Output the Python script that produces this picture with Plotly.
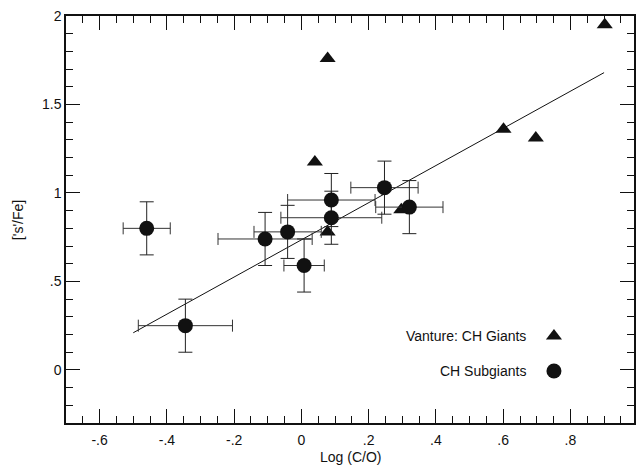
import plotly.graph_objects as go

# CH subgiants: log(C/O), ['s'/Fe] and their uncertainties
sub_x = [-0.46, -0.345, -0.108, -0.041, 0.008, 0.089, 0.089, 0.247, 0.321]
sub_y = [0.80, 0.25, 0.74, 0.78, 0.59, 0.96, 0.86, 1.03, 0.92]
sub_xerr = [0.07, 0.14, 0.14, 0.10, 0.06, 0.13, 0.15, 0.10, 0.10]
sub_yerr = [0.15, 0.15, 0.15, 0.15, 0.15, 0.15, 0.15, 0.15, 0.15]

# Vanture: CH giants
giant_x = [0.902, 0.078, 0.601, 0.697, 0.040, 0.078, 0.297]
giant_y = [1.95, 1.76, 1.36, 1.31, 1.175, 0.78, 0.905]

# Linear fit
fit_x = [-0.50, 0.90]
fit_y = [0.21, 1.68]

# Tick labels
x_tickvals = [-0.6, -0.4, -0.2, 0.0, 0.2, 0.4, 0.6, 0.8]
x_ticktext = ["-.6", "-.4", "-.2", "0", ".2", ".4", ".6", ".8"]
y_tickvals = [0.0, 0.5, 1.0, 1.5, 2.0]
y_ticktext = ["0", ".5", "1", "1.5", "2"]

FONT = "Liberation Sans, Arial, Helvetica, sans-serif"
INK = "#111111"
FS = 14

fig = go.Figure()

fig.add_trace(go.Scatter(
    x=fit_x, y=fit_y, mode="lines",
    line=dict(color=INK, width=1), showlegend=False, hoverinfo="skip",
))

fig.add_trace(go.Scatter(
    x=giant_x, y=giant_y, mode="markers",
    marker=dict(symbol="triangle-up", size=14, color=INK, line=dict(width=0)),
    showlegend=False, cliponaxis=False,
))

fig.add_trace(go.Scatter(
    x=sub_x, y=sub_y, mode="markers",
    marker=dict(symbol="circle", size=15, color=INK, line=dict(width=0)),
    error_x=dict(type="data", array=sub_xerr, visible=True,
                 color="#333333", thickness=1, width=6),
    error_y=dict(type="data", array=sub_yerr, visible=True,
                 color="#222222", thickness=1, width=7),
    showlegend=False,
))

# Key: symbols to the right of their labels
key_x = 0.751
key_text_x = 0.673
key_y = [0.192, -0.006]
fig.add_trace(go.Scatter(
    x=[key_x], y=[key_y[0]], mode="markers",
    marker=dict(symbol="triangle-up", size=14, color=INK),
    showlegend=False, hoverinfo="skip",
))
fig.add_trace(go.Scatter(
    x=[key_x], y=[key_y[1]], mode="markers",
    marker=dict(symbol="circle", size=15, color=INK),
    showlegend=False, hoverinfo="skip",
))
for label, yy in zip(["Vanture: CH Giants", "CH Subgiants"], key_y):
    fig.add_annotation(x=key_text_x, y=yy, xref="x", yref="y", text=label,
                       showarrow=False, xanchor="right", yanchor="middle",
                       font=dict(family=FONT, size=FS, color=INK))

axis_common = dict(
    showgrid=False, zeroline=False,
    showline=True, linecolor=INK, linewidth=1.5, mirror="ticks",
    ticks="inside", ticklen=14, tickwidth=1, tickcolor=INK,
    tickfont=dict(family=FONT, size=FS, color=INK),
)

fig.update_xaxes(
    range=[-0.7, 0.989], tickvals=x_tickvals, ticktext=x_ticktext,
    ticklabelstandoff=3,
    minor=dict(dtick=0.05, tick0=0, ticks="inside", ticklen=7,
               tickwidth=1, tickcolor=INK),
    **axis_common,
)
fig.update_yaxes(
    range=[-0.3, 2.0], tickvals=y_tickvals, ticktext=y_ticktext,
    minor=dict(dtick=0.1, tick0=0, ticks="inside", ticklen=7,
               tickwidth=1, tickcolor=INK),
    **axis_common,
)

fig.add_annotation(x=(352 - 66) / 570, y=-(457 - 423) / 407, xref="paper", yref="paper",
                   text="Log (C/O)", showarrow=False, xanchor="center", yanchor="middle",
                   font=dict(family=FONT, size=FS, color=INK))
fig.add_annotation(x=(18 - 66) / 570, y=(423 - 220) / 407, xref="paper", yref="paper",
                   text="['s'/Fe]", showarrow=False, textangle=-90,
                   xanchor="center", yanchor="middle",
                   font=dict(family=FONT, size=FS, color=INK))

fig.update_layout(
    width=636, height=465,
    margin=dict(l=66, r=0, t=16, b=42),
    paper_bgcolor="white", plot_bgcolor="white",
    font=dict(family=FONT, size=FS, color=INK),
)

fig.write_html("out.html")
